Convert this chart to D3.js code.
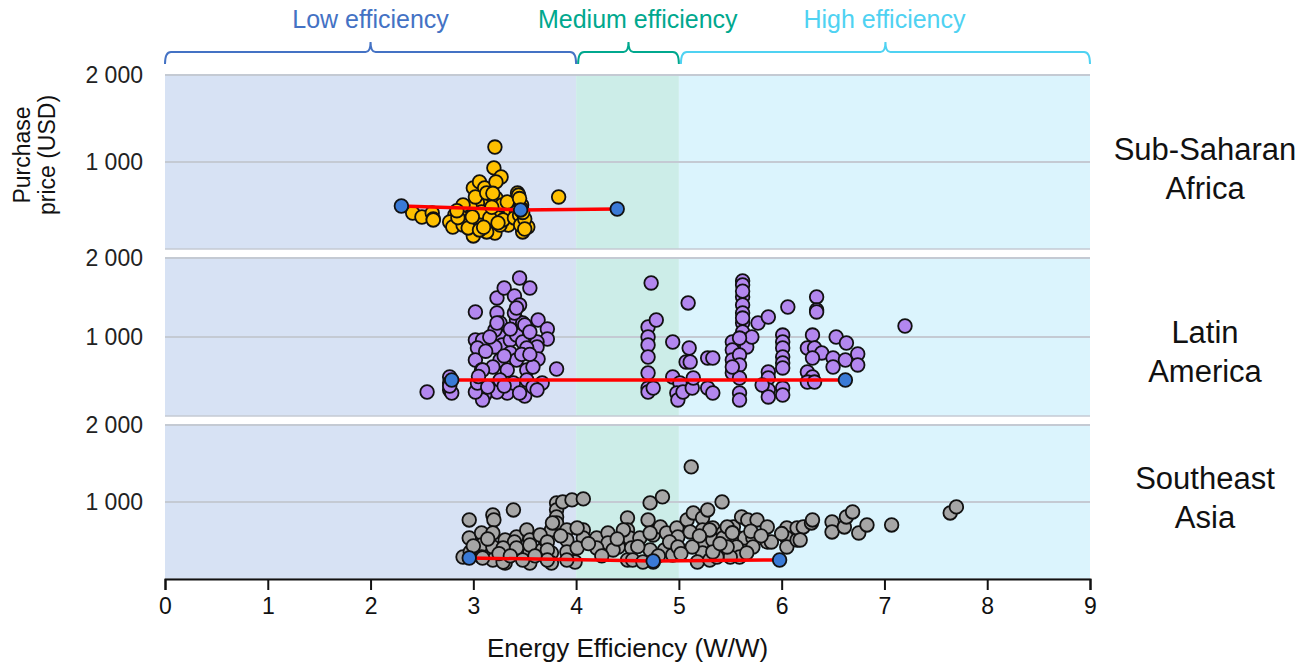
<!DOCTYPE html>
<html>
<head>
<meta charset="utf-8">
<script src="https://cdn.jsdelivr.net/npm/d3@7"></script>
<style>
  body { margin: 0; background: #fff; }
  svg { font-family: "Liberation Sans", Arial, sans-serif; }
</style>
</head>
<body>
<div id="chart"></div>
<script>
"use strict";

///////////////////////////////////////////
// 1.0 data //
///////////////////////////////////////////

var regions = ["Sub-Saharan Africa", "Latin America", "Southeast Asia"];
var regionLines = [["Sub-Saharan", "Africa"], ["Latin", "America"], ["Southeast", "Asia"]];

var bandNames = ["Low efficiency", "Medium efficiency", "High efficiency"];
var bandBounds = [[0, 4], [4, 5], [5, 9]];
var bandLabelAt = [2, 4.6, 7];

var xTicks = [0, 1, 2, 3, 4, 5, 6, 7, 8, 9];
var yTicks = [1000, 2000];

// [energy efficiency W/W, purchase price USD]
var africaPoints = [
  [2.41,414],[2.50,368],[2.60,414],[2.61,345],[2.61,334],[2.82,391],[2.82,311],[2.87,426],
  [2.90,334],[2.95,414],[3.00,150],[3.00,702],[3.06,771],[3.11,702],[3.06,311],[3.09,506],
  [3.21,1172],[3.20,932],[3.27,828],[3.22,771],[3.22,587],[3.22,426],[3.21,184],[3.13,196],
  [3.28,506],[3.33,368],[3.34,276],[3.43,644],[3.44,564],[3.47,311],[3.48,196],[3.53,253],
  [3.83,598],[3.14,414],[3.04,529],[2.97,483],[2.90,506],[2.77,311],[2.80,253],[2.90,276],
  [2.95,242],[3.06,219],[3.26,276],[3.36,449],[3.42,426],[3.08,426],[3.33,540],[3.02,598],
  [3.13,644],[3.16,357],[3.29,334],[3.40,357],[3.47,506],[3.45,391],[3.46,276],[3.44,620],
  [3.47,460],[3.50,345],[2.85,360],[3.18,480],[3.24,300],[3.45,580],[3.48,420],[3.50,230],
  [2.84,440],[2.99,370],[3.10,250],[3.19,640]
];

var latamPoints = [
  [2.55,304],[2.77,494],[2.77,418],[2.77,329],[2.79,291],[3.02,1317],[3.23,1494],[3.30,1620],
  [3.45,1747],[3.55,1620],[3.40,1519],[3.45,1405],[3.23,1304],[3.26,1177],[3.42,1215],[3.48,1177],
  [3.63,1215],[3.72,1101],[3.72,975],[3.62,937],[3.62,874],[3.63,722],[3.81,595],[3.67,418],
  [3.50,253],[3.33,291],[3.23,304],[3.11,266],[3.09,203],[3.02,304],[3.02,962],[3.09,962],
  [3.04,861],[3.02,709],[3.08,582],[3.26,1000],[3.28,899],[3.36,962],[3.42,1025],[3.48,937],
  [3.52,861],[3.36,798],[3.26,709],[3.42,709],[3.52,582],[3.58,620],[3.33,582],[3.19,620],
  [3.26,456],[3.39,418],[3.52,456],[3.58,367],[3.21,874],[3.21,1089],[3.23,1177],[3.40,1304],
  [3.42,1367],[3.50,1152],[3.55,1063],[3.09,582],[3.04,418],[3.14,367],[3.45,291],[3.62,329],
  [4.73,1684],[4.70,1127],[4.78,1215],[4.70,1000],[4.70,899],[4.70,747],[4.70,544],[4.70,354],
  [4.70,304],[4.75,354],[4.94,937],[5.09,1431],[5.10,861],[5.07,684],[5.11,684],[4.94,494],
  [5.01,418],[4.98,291],[4.99,203],[5.04,304],[5.13,354],[5.14,481],[5.28,734],[5.33,734],
  [5.28,354],[5.33,291],[5.62,1709],[5.62,1658],[5.62,1507],[5.62,1405],[5.62,1304],[5.62,1177],
  [5.62,1063],[5.64,962],[5.66,874],[5.71,1000],[5.52,937],[5.52,836],[5.52,709],[5.52,544],
  [5.59,987],[5.59,772],[5.59,646],[5.59,481],[5.59,291],[5.59,203],[5.77,1177],[5.87,1253],
  [5.87,557],[5.87,481],[5.87,329],[5.81,392],[5.87,241],[6.01,1025],[6.01,937],[6.01,861],
  [6.01,747],[6.01,671],[6.01,608],[6.01,354],[6.01,266],[6.06,1380],[6.34,1507],[6.34,1342],
  [6.34,1317],[6.30,1025],[6.25,861],[6.32,861],[6.39,798],[6.30,734],[6.25,557],[6.30,494],
  [6.25,430],[6.32,430],[6.53,1000],[6.63,924],[6.50,734],[6.50,620],[6.62,709],[6.74,785],
  [6.74,646],[7.20,1139],[3.12,820],[3.30,760],[3.47,780],[3.16,1000],[3.36,1100],[3.05,500],
  [3.30,380],[3.55,780],[2.77,380],[5.62,1580],[5.62,1240],[5.52,620]
];

var seasiaPoints = [
  [2.90,286],[2.96,767],[2.96,533],[2.97,351],[3.08,598],[3.08,442],[3.08,286],[3.19,832],
  [3.20,767],[3.19,598],[3.19,416],[3.19,247],[3.31,507],[3.31,377],[3.31,208],[3.39,897],
  [3.42,546],[3.42,338],[3.52,637],[3.55,507],[3.55,351],[3.55,208],[3.67,377],[3.70,507],
  [3.76,637],[3.76,338],[3.76,208],[3.81,988],[3.81,897],[3.81,806],[3.81,728],[3.87,1001],
  [3.96,1027],[4.07,1040],[3.91,637],[3.91,507],[3.91,351],[3.99,221],[4.07,637],[4.07,533],
  [4.20,533],[4.31,598],[4.31,468],[4.41,416],[4.50,793],[4.50,637],[4.52,533],[4.54,403],
  [4.50,247],[4.72,988],[4.84,1066],[4.70,767],[4.75,572],[4.82,676],[4.88,598],[4.98,663],
  [4.99,546],[4.72,377],[4.86,377],[4.94,312],[4.75,221],[5.12,1456],[5.08,767],[5.14,858],
  [5.23,793],[5.28,897],[5.42,1001],[5.23,637],[5.33,663],[5.43,598],[5.53,676],[5.61,806],
  [5.67,767],[5.76,767],[5.86,676],[5.23,468],[5.33,507],[5.43,533],[5.56,546],[5.64,533],
  [5.23,338],[5.13,416],[5.18,221],[5.30,247],[5.43,338],[5.56,416],[5.59,286],[5.86,481],
  [5.90,481],[6.05,663],[6.05,533],[6.05,416],[6.15,507],[6.15,663],[5.50,286],[5.37,286],
  [5.11,611],[5.30,637],[5.47,676],[5.72,533],[5.72,416],[5.66,338],[6.21,676],[6.29,728],
  [6.30,767],[6.49,741],[6.49,611],[6.61,676],[6.63,806],[6.69,871],[6.75,598],[6.83,702],
  [7.07,702],[7.64,858],[7.70,936],[3.40,481],[3.65,572],[3.72,481],[3.77,728],[4.01,663],
  [4.46,637],[4.62,533],[3.29,403],[3.42,403],[3.55,442],[3.72,377],[4.01,403],[4.20,403],
  [4.36,377],[3.09,273],[3.29,221],[3.48,247],[3.72,247],[3.91,247],[4.55,247],[4.65,221],
  [4.91,481],[4.99,416],[4.72,598],[5.47,416],[5.33,351],[6.18,507],[3.00,430],[3.14,520],
  [3.25,330],[3.36,300],[3.60,300],[3.85,560],[4.12,460],[4.25,300],[4.40,520],[4.60,420],
  [4.80,300],[5.02,330],[5.20,560],[5.40,460],[5.52,600],[5.70,620],[5.80,560],[6.00,590]
];

// trend line through the blue markers
var africaTrend = [[2.30,494],[3.46,449],[4.40,460]];
var latamTrend = [[2.79,456],[6.62,456]];
var seasiaTrend = [[2.96,273],[4.75,234],[5.98,247]];

var regionPoints = [africaPoints, latamPoints, seasiaPoints];
var regionTrends = [africaTrend, latamTrend, seasiaTrend];

/////////////////////////////
// 2.0 layout and styling  //
/////////////////////////////

var width = 1305, height = 662;
var plotLeft = 165, plotRight = 1090;
var panelBox = [{top: 75, bottom: 249}, {top: 258, bottom: 416}, {top: 425, bottom: 579}];
var labelPrice = [920, 810, 1053];

var pointFill = ["#ffc000", "#b387ef", "#a6a6a6"];
var bandFill = ["#d7e2f4", "#ccede8", "#dbf4fd"];
var bandColor = ["#4472c4", "#00a88e", "#4fd2f2"];
var trendDot = "#3a7ad6";
var gridColor = "#c4cad3";

var fmtTick = function(v) { return d3.format(",")(v).replace(",", " "); };

var x = d3.scaleLinear().domain([0, 9]).range([plotLeft, plotRight]);

var svg = d3.select("#chart").append("svg")
  .attr("width", width)
  .attr("height", height);

/////////////////////////
// 3.0 draw each panel //
/////////////////////////

regions.forEach(function(name, i) {
  var box = panelBox[i];
  var y = d3.scaleLinear().domain([0, 2000]).range([box.bottom, box.top]);
  var g = svg.append("g").attr("class", "panel");

  // efficiency bands
  g.selectAll(".band")
    .data(bandBounds)
    .enter().append("rect")
    .attr("x", function(d) { return x(d[0]); })
    .attr("width", function(d) { return x(d[1]) - x(d[0]); })
    .attr("y", box.top)
    .attr("height", box.bottom - box.top)
    .attr("fill", function(d, j) { return bandFill[j]; });

  // grid lines
  g.selectAll(".grid")
    .data([0].concat(yTicks))
    .enter().append("line")
    .attr("x1", plotLeft).attr("x2", plotRight)
    .attr("y1", function(d) { return y(d); })
    .attr("y2", function(d) { return y(d); })
    .attr("stroke", gridColor)
    .attr("stroke-width", function(d) { return d === 0 ? 1.5 : 2; });

  // tick labels
  g.selectAll(".ylab")
    .data(yTicks)
    .enter().append("text")
    .attr("x", 143)
    .attr("y", function(d) { return y(d); })
    .attr("dy", "0.35em")
    .attr("text-anchor", "end")
    .attr("font-size", 23)
    .attr("fill", "#222")
    .text(fmtTick);

  // scatter
  g.selectAll(".pt")
    .data(regionPoints[i])
    .enter().append("circle")
    .attr("cx", function(d) { return x(d[0]); })
    .attr("cy", function(d) { return y(d[1]); })
    .attr("r", 6.8)
    .attr("fill", pointFill[i])
    .attr("stroke", "#111")
    .attr("stroke-width", 1.8);

  // trend
  var line = d3.line()
    .x(function(d) { return x(d[0]); })
    .y(function(d) { return y(d[1]); });
  g.append("path")
    .attr("d", line(regionTrends[i]))
    .attr("fill", "none")
    .attr("stroke", "#ff0000")
    .attr("stroke-width", 3.5);
  g.selectAll(".tr")
    .data(regionTrends[i])
    .enter().append("circle")
    .attr("cx", function(d) { return x(d[0]); })
    .attr("cy", function(d) { return y(d[1]); })
    .attr("r", 6.8)
    .attr("fill", trendDot)
    .attr("stroke", "#111")
    .attr("stroke-width", 1.8);

  // region name
  var ly = y(labelPrice[i]);
  g.append("text")
    .attr("x", 1205)
    .attr("y", ly)
    .attr("text-anchor", "middle")
    .attr("font-size", 31)
    .attr("fill", "#111")
    .selectAll("tspan")
    .data(regionLines[i])
    .enter().append("tspan")
    .attr("x", 1205)
    .attr("dy", function(d, j) { return j === 0 ? "-0.3em" : "1.26em"; })
    .text(function(d) { return d; });
});

///////////////////
// 4.0 x axis    //
///////////////////

var axis = svg.append("g")
  .attr("transform", "translate(0," + panelBox[2].bottom + ")")
  .call(d3.axisBottom(x).tickValues(xTicks).tickSize(11).tickPadding(8).tickFormat(d3.format("d")));
axis.select(".domain").attr("stroke", "#111").attr("stroke-width", 2);
axis.selectAll(".tick line").attr("stroke", "#111").attr("stroke-width", 2);
axis.selectAll(".tick text")
  .attr("font-size", 23)
  .attr("fill", "#111")
  .attr("font-family", "Liberation Sans, Arial, sans-serif");

svg.append("text")
  .attr("x", (plotLeft + plotRight) / 2)
  .attr("y", 657)
  .attr("text-anchor", "middle")
  .attr("font-size", 26)
  .attr("fill", "#111")
  .text("Energy Efficiency (W/W)");

// y title, two lines rotated
var yTitle = svg.append("text")
  .attr("transform", "translate(30,155) rotate(-90)")
  .attr("text-anchor", "middle")
  .attr("font-size", 23)
  .attr("fill", "#111");
yTitle.append("tspan").attr("x", 0).attr("dy", 0).text("Purchase");
yTitle.append("tspan").attr("x", 0).attr("dy", 25).text("price (USD)");

//////////////////////////////
// 5.0 efficiency braces    //
//////////////////////////////

function bracePath(a, b, yLine) {
  var p = d3.path();
  var mid = (a + b) / 2;
  p.moveTo(a, yLine + 12);
  p.quadraticCurveTo(a, yLine, a + 6, yLine);
  p.lineTo(mid - 5, yLine);
  p.quadraticCurveTo(mid, yLine, mid, yLine - 10);
  p.quadraticCurveTo(mid, yLine, mid + 5, yLine);
  p.lineTo(b - 6, yLine);
  p.quadraticCurveTo(b, yLine, b, yLine + 12);
  return p.toString();
}

var braces = svg.append("g").attr("class", "braces");
bandBounds.forEach(function(d, j) {
  braces.append("path")
    .attr("d", bracePath(x(d[0]) + (j > 0 ? 2 : 0), x(d[1]), 52))
    .attr("fill", "none")
    .attr("stroke", bandColor[j])
    .attr("stroke-width", 2);
  braces.append("text")
    .attr("x", x(bandLabelAt[j]))
    .attr("y", 28)
    .attr("text-anchor", "middle")
    .attr("font-size", 25)
    .attr("fill", bandColor[j])
    .text(bandNames[j]);
});
</script>
</body>
</html>
